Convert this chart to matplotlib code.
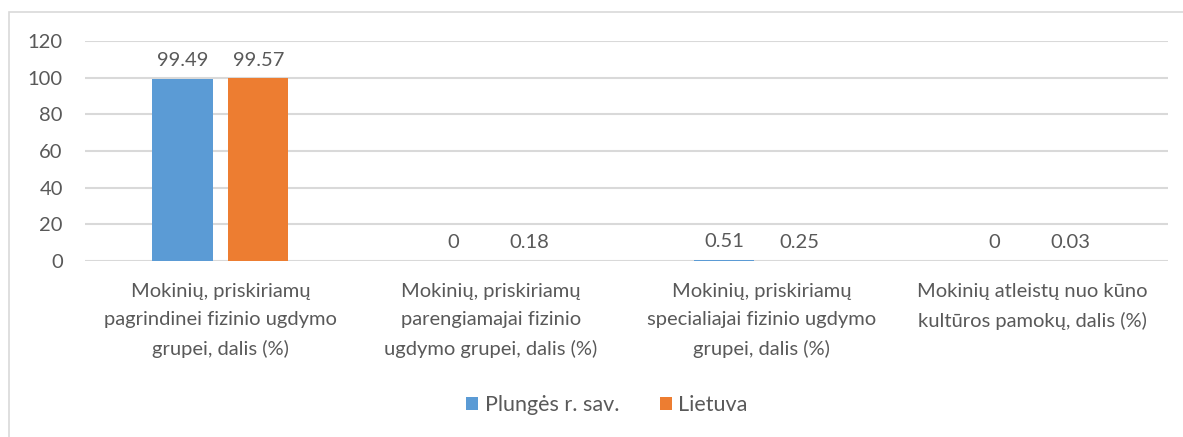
import numpy as np
import matplotlib.pyplot as plt
from matplotlib.patches import Rectangle

categories = [
    "Mokinių, priskiriamų\npagrindinei fizinio ugdymo\ngrupei, dalis (%)",
    "Mokinių, priskiriamų\nparengiamajai fizinio\nugdymo grupei, dalis (%)",
    "Mokinių, priskiriamų\nspecialiajai fizinio ugdymo\ngrupei, dalis (%)",
    "Mokinių atleistų nuo kūno\nkultūros pamokų, dalis (%)",
]
plunge = [99.49, 0, 0.51, 0]
lietuva = [99.57, 0.18, 0.25, 0.03]
series_names = ["Plungės r. sav.", "Lietuva"]
yticks = [0, 20, 40, 60, 80, 100, 120]

TXT = "#595959"
FS = 14.5
plt.rcParams["font.family"] = ["Lato", "DejaVu Sans"]

W, H = 1183, 437
fig = plt.figure(figsize=(W / 100, H / 100), dpi=100)
# plot area in pixels: x 85..1168, y 41..261
ax = fig.add_axes([85 / W, 1 - 261 / H, (1168 - 85) / W, (261 - 41) / H])

# chart frame (cut off at right and bottom)
fig.patches.append(Rectangle((8.5 / W, -0.1), 1.2, 1 - 12.5 / H + 0.1,
                             transform=fig.transFigure, fill=False,
                             edgecolor="#d9d9d9", linewidth=1.2))

x = np.arange(len(categories))
w = 0.222
off = 0.14
b1 = ax.bar(x - off, plunge, w, color="#5B9BD5", label=series_names[0], zorder=3)
b2 = ax.bar(x + off, lietuva, w, color="#ED7D31", label=series_names[1], zorder=3)

for bars, vals in ((b1, plunge), (b2, lietuva)):
    for r, v in zip(bars, vals):
        ax.annotate(f"{v:g}", (r.get_x() + r.get_width() / 2, v),
                    xytext=(0, 7), textcoords="offset points",
                    ha="center", va="bottom", fontsize=FS, color=TXT)

ax.set_xlim(-0.5, len(categories) - 0.5)
ax.set_ylim(0, 120)
ax.set_yticks(yticks)
ax.yaxis.grid(True, color="#d9d9d9", linewidth=1.5, zorder=0)
ax.set_axisbelow(True)
for s in ax.spines.values():
    s.set_visible(False)
ax.tick_params(length=0, labelsize=FS, colors=TXT)
ax.tick_params(axis="y", pad=16)
ax.tick_params(axis="x", pad=16)
ax.set_xticks(x)
ax.set_xticklabels(categories, linespacing=1.78)

fig.legend(loc="center", bbox_to_anchor=(607 / W, 1 - 405 / H), ncol=2,
           frameon=False, fontsize=15.5, labelcolor=TXT,
           handlelength=0.55, handleheight=0.55, handletextpad=0.3,
           columnspacing=1.9)

fig.savefig("out.png", dpi=100, facecolor="white")
